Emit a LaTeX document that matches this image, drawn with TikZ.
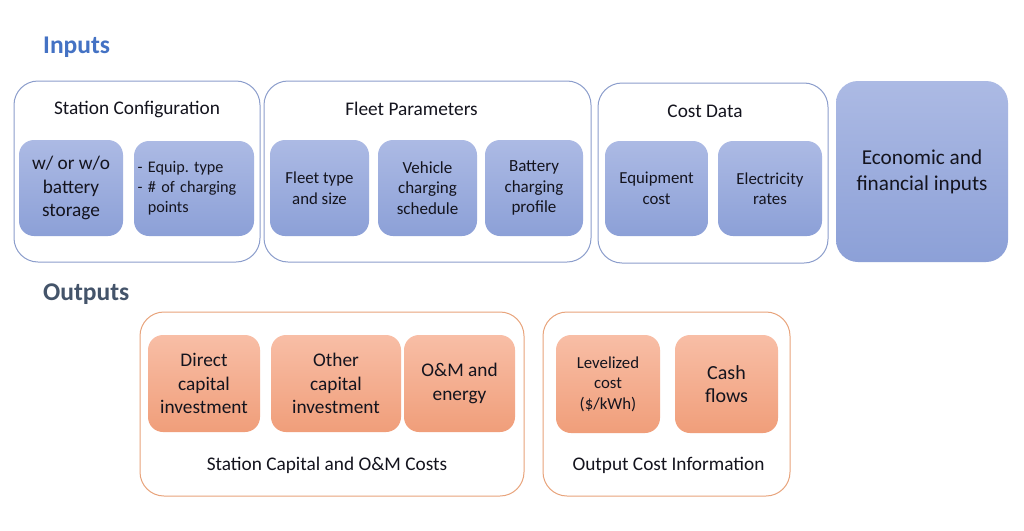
\documentclass[tikz,border=0pt]{standalone}
\usepackage{fontspec}
\setmainfont{Carlito}
\frenchspacing
\definecolor{inblue}{RGB}{68,114,196}
\definecolor{outgrey}{RGB}{68,84,106}
\definecolor{blueline}{RGB}{140,158,204}
\definecolor{bluetop}{RGB}{172,186,228}
\definecolor{bluebot}{RGB}{140,160,215}
\definecolor{orangeline}{RGB}{232,164,124}
\definecolor{orangetop}{RGB}{248,190,166}
\definecolor{orangebot}{RGB}{240,158,122}
\definecolor{txt}{RGB}{20,20,30}
\begin{document}
\begin{tikzpicture}[x=1pt,y=-1pt,
  bgroup/.style={draw=blueline,line width=1pt,rounded corners=24pt,fill=white,inner sep=0pt},
  ogroup/.style={draw=orangeline,line width=1pt,rounded corners=24pt,fill=white,inner sep=0pt},
  bbox/.style={rounded corners=15pt,top color=bluetop,bottom color=bluebot,inner sep=2pt,align=center,text=txt},
  obox/.style={rounded corners=15pt,top color=orangetop,bottom color=orangebot,inner sep=2pt,align=center,text=txt},
  ttl/.style={text=txt,inner sep=0pt,font=\fontsize{19.3}{22}\selectfont},
  fbig/.style={font=\fontsize{19.3}{23.5}\selectfont},
  fmid/.style={font=\fontsize{17}{20.5}\selectfont},
  fsm/.style={font=\fontsize{16.8}{20.5}\selectfont},
]
\useasboundingbox (0,0) rectangle (1024,530);
\fill[white] (0,0) rectangle (1024,530);

% headings
\node[anchor=west,text=inblue,font=\bfseries\fontsize{25.5}{28}\selectfont,inner sep=0pt] (hin) at (43,47) {Inputs};
\node[anchor=west,text=outgrey,font=\bfseries\fontsize{25.5}{28}\selectfont,inner sep=0pt] (hout) at (43,294) {Outputs};

% input groups
\node[bgroup,minimum width=246pt,minimum height=181pt] (sc) at (137,171.5) {};
\node[bgroup,minimum width=327pt,minimum height=181pt] (fp) at (427.5,171.5) {};
\node[bgroup,minimum width=230pt,minimum height=180pt] (cd) at (713,173) {};
\node[bbox,rounded corners=22pt,minimum width=172pt,minimum height=181pt,font=\fontsize{21.2}{26}\selectfont] (eco) at (922,171.5) {Economic and\\financial inputs};

\node[ttl] (tsc) at (137,109) {Station Configuration};
\node[ttl] (tfp) at (411.5,109) {Fleet Parameters};
\node[ttl] (tcd) at (705,111) {Cost Data};

\node[bbox,fbig,minimum width=104pt,minimum height=96pt] (b1) at (71,188) {w/ or w/o\\battery\\storage};
\node[bbox,align=left,font=\fontsize{16.2}{20}\selectfont,minimum width=120pt,minimum height=95pt,text width=113pt] (b2) at (194,188.5) {- Equip. type\\- \# of charging\\\phantom{- }points};
\node[bbox,fsm,minimum width=99pt,minimum height=96pt] (b3) at (319.5,188) {Fleet type\\and size};
\node[bbox,fmid,minimum width=99pt,minimum height=96pt] (b4) at (427.5,188) {Vehicle\\charging\\schedule};
\node[bbox,fmid,minimum width=98pt,minimum height=96pt] (b5) at (534,188) {Battery\\charging\\profile};
\node[bbox,fsm,minimum width=103pt,minimum height=95pt] (b6) at (656.5,188.5) {Equipment\\cost};
\node[bbox,fsm,minimum width=104pt,minimum height=95pt] (b7) at (770,188.5) {Electricity\\rates};

% output groups
\node[ogroup,minimum width=384pt,minimum height=184pt] (scc) at (332,404) {};
\node[ogroup,minimum width=247pt,minimum height=184pt] (oci) at (666.5,404) {};
\node[ttl] (tscc) at (327,465) {Station Capital and O\&M Costs};
\node[ttl] (toci) at (668.5,465) {Output Cost Information};

\node[obox,fbig,minimum width=112pt,minimum height=97pt] (o1) at (204,383.5) {Direct\\capital\\investment};
\node[obox,fbig,minimum width=130pt,minimum height=97pt] (o2) at (336,383.5) {Other\\capital\\investment};
\node[obox,fbig,minimum width=111pt,minimum height=97pt] (o3) at (459.5,383.5) {O\&M and\\energy};
\node[obox,fsm,minimum width=104pt,minimum height=98pt] (o4) at (608,384) {Levelized\\cost\\(\$/kWh)};
\node[obox,font=\fontsize{20}{23.5}\selectfont,minimum width=103pt,minimum height=98pt] (o5) at (726.5,384) {Cash\\flows};
\end{tikzpicture}
\end{document}
